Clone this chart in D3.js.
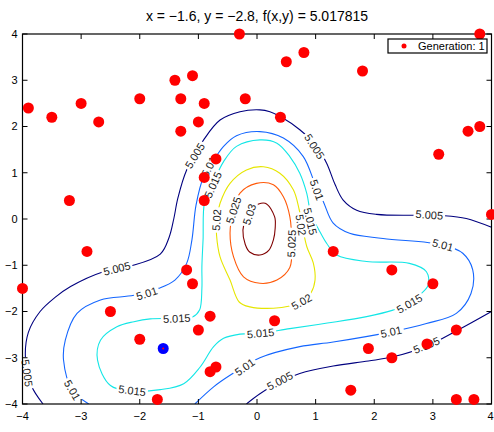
<!DOCTYPE html>
<html>
<head>
<meta charset="utf-8">
<script src="https://cdn.jsdelivr.net/npm/d3@7"></script>
<style>
    body { margin: 0; background: #fff; }
    svg { display: block; font-family: "Liberation Sans", Arial, sans-serif; }
</style>
</head>
<body>
<div id="chart"></div>
<script>
// Title values
const bestX = -1.6, bestY = -2.8, bestF = 5.017815;

// Axis ticks
const xTicks = [-4, -3, -2, -1, 0, 1, 2, 3, 4];
const yTicks = [-4, -3, -2, -1, 0, 1, 2, 3, 4];

// Population (generation 1)
const popX = [-0.3, 3.8, 0.8, 0.5, 1.8, 0.4, 3.8, 3.6, 3.1, -1.1, -1.4, -3.9, -3.5, -3.0, -2.7, -2.0,
    -1.3, -0.9, -0.2, -1.0, -1.3, -0.7, -0.9, -3.2, -0.9, -2.9, -4.0, -1.2, -1.1, -2.5, -2.0, -0.8,
    -1.0, -0.7, -0.8, -1.7, 0.3, 1.3, 2.3, 3.0, 4.0, 3.4, 2.9, 1.9, 2.3, 1.6, 3.4, 3.7];
const popY = [4.0, 4.0, 3.6, 3.4, 3.2, 2.2, 2.0, 1.9, 1.4, 3.1, 3.0, 2.4, 2.2, 2.5, 2.1, 2.6,
    2.6, 2.5, 2.6, 2.1, 1.9, 1.3, 0.9, 0.4, 0.4, -0.7, -1.5, -1.1, -1.4, -2.0, -2.6, -2.1,
    -2.4, -3.2, -3.3, -3.9, -2.2, -0.7, -1.1, -1.4, 0.1, -2.4, -2.7, -2.8, -3.0, -3.7, -3.9, -3.9];

// Contour lines [x, y]
const c5005a = [[-3.65, -4.0], [-3.85, -3.6], [-3.95, -3.0], [-3.9, -2.45], [-3.7, -2.0], [-3.45, -1.7],
    [-3.18, -1.46], [-2.62, -1.14], [-2.16, -1.02], [-1.65, -0.76], [-1.5, -0.4], [-1.42, 0.0],
    [-1.35, 0.45], [-1.2, 1.06], [-0.91, 1.71], [-0.63, 2.14], [-0.29, 2.32], [0.05, 2.36],
    [0.22, 2.32], [0.42, 2.2], [0.73, 1.93], [1.02, 1.57], [1.19, 1.2], [1.33, 0.75], [1.47, 0.41],
    [1.7, 0.19], [2.04, 0.1], [2.7, 0.08], [3.2, 0.07], [3.57, 0.01], [4.0, -0.18]];
const c5005b = [[-0.18, -4.0], [0.05, -3.78], [0.39, -3.52], [0.73, -3.34], [1.3, -3.18], [1.9, -3.07],
    [2.32, -2.98], [2.89, -2.75], [3.43, -2.4], [4.0, -2.0]];
const c501 = [[-2.87, -4.0], [-3.15, -3.7], [-3.3, -3.05], [-3.27, -2.62], [-3.07, -2.04], [-2.67, -1.75],
    [-2.1, -1.65], [-1.68, -1.5], [-1.4, -1.32], [-1.2, -0.96], [-1.11, -0.45], [-1.04, 0.3],
    [-0.91, 0.92], [-0.8, 1.15], [-0.57, 1.57], [-0.35, 1.8], [0.05, 1.89], [0.45, 1.75],
    [0.79, 1.35], [1.0, 0.72], [1.13, 0.38], [1.3, -0.09], [1.58, -0.31], [2.15, -0.42],
    [3.17, -0.56], [3.51, -0.74], [3.68, -1.1], [3.65, -1.61], [3.4, -2.04], [2.89, -2.26],
    [2.29, -2.44], [1.3, -2.66], [0.73, -2.76], [0.05, -3.0], [-0.46, -3.38], [-0.74, -3.63],
    [-1.06, -4.0]];
const c5015 = [[-2.13, -3.72], [-1.65, -3.69], [-1.25, -3.56], [-0.97, -3.2], [-0.74, -2.76],
    [-0.57, -2.58], [-0.29, -2.49], [0.05, -2.47], [0.56, -2.37], [1.2, -2.25], [1.87, -2.11],
    [2.32, -1.97], [2.6, -1.83], [2.77, -1.65], [2.92, -1.43], [2.89, -1.14], [2.6, -0.96],
    [1.87, -0.92], [1.36, -0.78], [1.19, -0.53], [1.05, -0.22], [0.92, 0.1], [0.85, 0.55],
    [0.73, 0.99], [0.56, 1.35], [0.34, 1.64], [0.05, 1.71], [-0.35, 1.57], [-0.57, 1.24],
    [-0.74, 0.8], [-0.89, 0.4], [-0.92, -0.45], [-0.94, -1.03], [-0.94, -1.5], [-0.98, -1.97],
    [-1.1, -2.12], [-1.37, -2.15], [-1.82, -2.16], [-2.1, -2.22], [-2.39, -2.33], [-2.67, -2.62],
    [-2.72, -3.05], [-2.5, -3.6]];
const c502 = [[-0.69, -0.02], [-0.63, 0.34], [-0.46, 0.77], [-0.18, 1.06], [0.11, 1.13], [0.39, 0.99],
    [0.62, 0.63], [0.72, 0.2], [0.78, -0.2], [0.85, -0.6], [0.96, -0.95], [0.99, -1.32],
    [0.92, -1.6], [0.76, -1.79], [0.56, -1.88], [0.28, -1.93], [-0.12, -1.9], [-0.3, -1.8],
    [-0.46, -1.32], [-0.63, -0.82], [-0.69, -0.35]];
const c5025 = [[-0.4, 0.19], [-0.29, 0.56], [-0.01, 0.77], [0.28, 0.74], [0.45, 0.48], [0.56, 0.05],
    [0.59, -0.53], [0.56, -1.05], [0.34, -1.32], [0.05, -1.39], [-0.23, -1.25], [-0.4, -0.82],
    [-0.46, -0.31]];
const c503 = [[0.14, 0.34], [0.3, 0.05], [0.31, -0.2], [0.28, -0.45], [0.2, -0.68], [0.05, -0.78],
    [-0.12, -0.72], [-0.2, -0.55], [-0.24, -0.24], [-0.18, 0.05], [-0.08, 0.25]];

const contours = [
    { level: 5.005, pts: c5005a, closed: false },
    { level: 5.005, pts: c5005b, closed: false },
    { level: 5.01, pts: c501, closed: false },
    { level: 5.015, pts: c5015, closed: true },
    { level: 5.02, pts: c502, closed: true },
    { level: 5.025, pts: c5025, closed: true },
    { level: 5.03, pts: c503, closed: true }
];

// Contour labels [level, x, y, angle]
const labels = [
    [5.005, -2.39, -1.07, -14], [5.005, -3.92, -3.33, 82], [5.005, -1.06, 1.37, -58],
    [5.005, 0.98, 1.57, 57], [5.005, 2.94, 0.09, 4], [5.005, 2.89, -2.73, -22],
    [5.005, 0.39, -3.5, -28],
    [5.01, -1.88, -1.61, -18], [5.01, -3.15, -3.7, 60], [5.01, -0.82, 1.13, -62],
    [5.01, 1.02, 0.63, 70], [5.01, 3.17, -0.56, 15], [5.01, 2.29, -2.44, -12],
    [5.01, -0.21, -3.2, -35],
    [5.015, -1.37, -2.15, -3], [5.015, -2.13, -3.71, 7], [5.015, -0.75, 0.74, -66],
    [5.015, 0.91, -0.05, 76], [5.015, 2.6, -1.83, -30], [5.015, 0.06, -2.47, -5],
    [5.02, -0.69, -0.02, -86], [5.02, 0.75, -0.13, 82], [5.02, 0.76, -1.79, -30],
    [5.025, -0.4, 0.19, -72], [5.025, 0.59, -0.53, -88],
    [5.03, -0.13, 0.1, -72]
];

const levelColor = d3.scaleOrdinal()
    .domain([5.005, 5.01, 5.015, 5.02, 5.025, 5.03])
    .range(["#00007f", "#1466ff", "#14e6e6", "#e6e600", "#ff5a0a", "#7f0000"]);

const W = 494, H = 432;
const svg = d3.select("#chart").append("svg")
    .attr("width", W).attr("height", H);

const x = d3.scaleLinear().domain([-4, 4]).range([22.5, 491.5]);
const y = d3.scaleLinear().domain([-4, 4]).range([404, 34]);

svg.append("defs").append("clipPath").attr("id", "plot")
    .append("rect")
    .attr("x", x(-4)).attr("y", y(4))
    .attr("width", x(4) - x(-4)).attr("height", y(-4) - y(4));

// Contour lines
const lineOpen = d3.line().x(d => x(d[0])).y(d => y(d[1])).curve(d3.curveCatmullRom.alpha(0.5));
const lineClosed = d3.line().x(d => x(d[0])).y(d => y(d[1])).curve(d3.curveCatmullRomClosed.alpha(0.5));

svg.append("g").attr("clip-path", "url(#plot)")
    .selectAll("path")
    .data(contours)
    .join("path")
    .attr("d", d => d.closed ? lineClosed(d.pts) : lineOpen(d.pts))
    .attr("fill", "none")
    .attr("stroke", d => levelColor(d.level))
    .attr("stroke-width", 1.1);

// Contour labels (white gap behind the text, like clabel)
const lab = svg.append("g").selectAll("g")
    .data(labels)
    .join("g")
    .attr("transform", d => `translate(${x(d[1])},${y(d[2])}) rotate(${d[3]})`);

lab.append("text")
    .attr("text-anchor", "middle")
    .attr("dy", "0.36em")
    .style("font-size", "11px")
    .attr("fill", "#222")
    .text(d => d3.format(".4~f")(d[0]));

lab.each(function () {
    const g = d3.select(this);
    const w = g.select("text").node().getComputedTextLength();
    g.insert("rect", "text")
        .attr("x", -w / 2 - 2).attr("y", -5)
        .attr("width", w + 4).attr("height", 10)
        .attr("fill", "#fff");
});

// Axes box and ticks
const axes = svg.append("g").attr("stroke", "#000").attr("fill", "none");
axes.append("rect")
    .attr("x", x(-4)).attr("y", y(4))
    .attr("width", x(4) - x(-4)).attr("height", y(-4) - y(4))
    .attr("stroke-width", 1.2);

const tickLen = 5;
axes.selectAll(".xtb").data(xTicks).join("line")
    .attr("x1", d => x(d)).attr("x2", d => x(d))
    .attr("y1", y(-4)).attr("y2", y(-4) - tickLen);
axes.selectAll(".xtt").data(xTicks).join("line")
    .attr("x1", d => x(d)).attr("x2", d => x(d))
    .attr("y1", y(4)).attr("y2", y(4) + tickLen);
axes.selectAll(".ytl").data(yTicks).join("line")
    .attr("y1", d => y(d)).attr("y2", d => y(d))
    .attr("x1", x(-4)).attr("x2", x(-4) + tickLen);
axes.selectAll(".ytr").data(yTicks).join("line")
    .attr("y1", d => y(d)).attr("y2", d => y(d))
    .attr("x1", x(4)).attr("x2", x(4) - tickLen);

const fmt = d => d < 0 ? "\u2212" + Math.abs(d) : String(d);

svg.append("g").selectAll("text").data(xTicks).join("text")
    .attr("x", d => d === 4 ? x(d) - 1 : x(d)).attr("y", y(-4) + 16)
    .attr("text-anchor", "middle")
    .style("font-size", "11px").attr("fill", "#000")
    .text(fmt);

svg.append("g").selectAll("text").data(yTicks).join("text")
    .attr("x", x(-4) - 5).attr("y", d => y(d))
    .attr("dy", "0.36em")
    .attr("text-anchor", "end")
    .style("font-size", "11px").attr("fill", "#000")
    .text(fmt);

// Population points
svg.append("g").selectAll("circle")
    .data(popX.map((v, i) => [v, popY[i]]))
    .join("circle")
    .attr("cx", d => x(d[0])).attr("cy", d => y(d[1]))
    .attr("r", 5.5)
    .attr("fill", "#ff0000");

// Best point
svg.append("circle")
    .attr("cx", x(bestX)).attr("cy", y(bestY))
    .attr("r", 5.5).attr("fill", "#0000ff");
svg.append("circle")
    .attr("cx", x(bestX)).attr("cy", y(bestY))
    .attr("r", 1).attr("fill", "#ff0000");

// Title
svg.append("text")
    .attr("x", (x(-4) + x(4)) / 2).attr("y", 21)
    .attr("text-anchor", "middle")
    .style("font-size", "14px").attr("fill", "#000")
    .text(`x = \u2212${Math.abs(bestX)}, y = \u2212${Math.abs(bestY)}, f(x,y) = ${bestF}`);

// Legend
const leg = svg.append("g");
leg.append("rect")
    .attr("x", 388).attr("y", 39).attr("width", 99).attr("height", 14)
    .attr("fill", "#fff").attr("stroke", "#000").attr("stroke-width", 1.2);
leg.append("circle").attr("cx", 404).attr("cy", 46).attr("r", 2.5).attr("fill", "#ff0000");
leg.append("text")
    .attr("x", 418).attr("y", 46).attr("dy", "0.36em")
    .style("font-size", "11px").attr("fill", "#000")
    .text("Generation: 1");
</script>
</body>
</html>
